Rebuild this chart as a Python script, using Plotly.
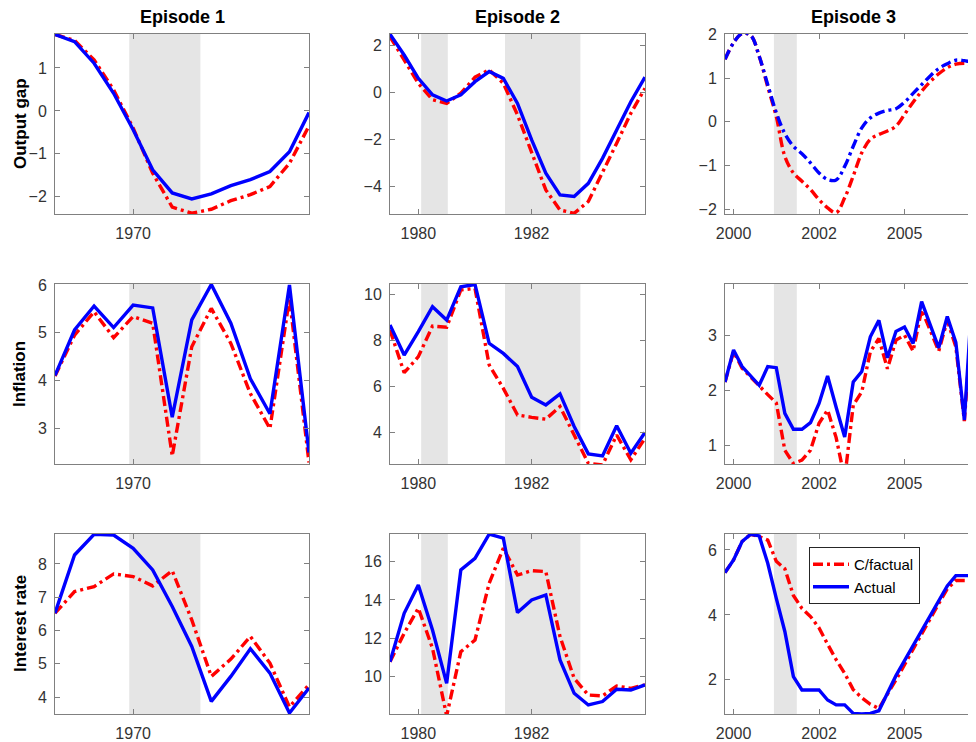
import numpy as np
import plotly.graph_objects as go

# ---------------- data ----------------
# Episode 1: quarterly, 1969Q1 .. 1972Q2
ep1_start, ep1_n = 1969.0, 14
ep1_og_actual = [1.78, 1.61, 1.11, 0.41, -0.44, -1.37, -1.91, -2.05, -1.93, -1.74, -1.60, -1.41, -0.95, -0.04]
ep1_og_cf = [1.78, 1.64, 1.19, 0.49, -0.40, -1.45, -2.24, -2.38, -2.29, -2.09, -1.95, -1.76, -1.22, -0.35]
ep1_inf_actual = [4.11, 5.06, 5.56, 5.11, 5.58, 5.52, 3.24, 5.27, 6.01, 5.20, 4.04, 3.31, 6.00, 2.50]
ep1_inf_cf = [4.10, 4.95, 5.44, 4.90, 5.34, 5.20, 2.43, 4.71, 5.51, 4.78, 3.73, 3.00, 5.72, 2.29]
ep1_ir_actual = [6.52, 8.27, 8.89, 8.87, 8.47, 7.82, 6.72, 5.52, 3.87, 4.62, 5.45, 4.72, 3.52, 4.27]
ep1_ir_cf = [6.52, 7.17, 7.32, 7.70, 7.62, 7.34, 7.80, 6.32, 4.62, 5.14, 5.82, 5.02, 3.70, 4.37]

# Episode 2: quarterly, 1979Q3 .. 1984Q1
ep2_start, ep2_n = 1979.5, 19
ep2_og_actual = [2.46, 1.58, 0.59, -0.11, -0.37, -0.11, 0.45, 0.88, 0.59, -0.47, -2.02, -3.43, -4.35, -4.42, -3.86, -2.80, -1.60, -0.40, 0.64]
ep2_og_cf = [2.36, 1.37, 0.38, -0.32, -0.47, -0.04, 0.64, 0.95, 0.38, -0.96, -2.58, -4.14, -4.99, -5.13, -4.63, -3.43, -2.16, -0.89, 0.17]
ep2_inf_actual = [8.67, 7.36, 8.38, 9.46, 8.88, 10.33, 10.43, 7.87, 7.43, 6.86, 5.52, 5.19, 5.67, 4.25, 3.06, 2.97, 4.28, 3.09, 3.99]
ep2_inf_cf = [8.45, 6.59, 7.29, 8.62, 8.57, 10.19, 10.26, 6.93, 5.91, 4.75, 4.65, 4.57, 5.12, 3.88, 2.65, 2.58, 3.88, 2.80, 3.74]
ep2_ir_actual = [10.78, 13.30, 14.78, 12.43, 9.65, 15.57, 16.17, 17.43, 17.22, 13.34, 14.00, 14.26, 10.87, 9.13, 8.52, 8.70, 9.34, 9.30, 9.57]
ep2_ir_cf = [10.78, 12.26, 13.57, 11.48, 7.95, 11.30, 11.91, 14.87, 16.70, 15.30, 15.53, 15.48, 12.09, 9.91, 9.04, 8.99, 9.51, 9.39, 9.57]

# Episode 3: quarterly, 1999Q4 .. 2007Q2
ep3_start, ep3_n = 1999.75, 31
ep3_og_actual = [1.43, 1.81, 2.02, 1.98, 1.50, 0.85, 0.21, -0.27, -0.56, -0.73, -0.94, -1.17, -1.32, -1.33, -1.02, -0.56,
                 -0.14, 0.09, 0.20, 0.26, 0.30, 0.45, 0.65, 0.85, 1.05, 1.22, 1.33, 1.41, 1.40, 1.38, 1.58]
ep3_og_cf = [1.43, 1.81, 2.02, 1.98, 1.50, 0.80, 0.12, -0.79, -1.17, -1.36, -1.55, -1.78, -1.97, -2.08, -1.74, -1.24,
             -0.71, -0.40, -0.29, -0.21, -0.10, 0.17, 0.45, 0.70, 0.92, 1.10, 1.24, 1.32, 1.34, 1.32, 1.52]
ep3_inf_actual = [2.16, 2.74, 2.44, 2.28, 2.10, 2.44, 2.42, 1.59, 1.30, 1.30, 1.42, 1.77, 2.27, 1.70, 1.16, 2.16,
                  2.35, 2.98, 3.28, 2.60, 3.08, 3.16, 2.86, 3.62, 3.18, 2.78, 3.35, 2.88, 1.47, 3.95, 2.00]
ep3_inf_cf = [2.16, 2.71, 2.41, 2.25, 2.07, 1.93, 1.78, 0.92, 0.68, 0.74, 0.92, 1.41, 1.65, 1.15, 0.40, 1.74,
              1.98, 2.71, 2.95, 2.40, 2.92, 3.01, 2.72, 3.47, 3.10, 2.72, 3.28, 2.80, 1.45, 3.60, 2.00]
ep3_ir_actual = [5.30, 5.69, 6.26, 6.48, 6.43, 5.59, 4.51, 3.49, 2.10, 1.69, 1.69, 1.69, 1.38, 1.23, 1.23, 0.97,
                 0.95, 0.97, 1.05, 1.60, 2.13, 2.59, 3.05, 3.51, 3.97, 4.43, 4.89, 5.21, 5.21, 5.21, 5.21]
ep3_ir_cf = [5.30, 5.69, 6.26, 6.48, 6.41, 6.30, 5.65, 5.42, 4.60, 4.20, 3.95, 3.60, 3.10, 2.62, 2.20, 1.70,
             1.45, 1.25, 1.12, 1.55, 2.00, 2.47, 2.95, 3.42, 3.90, 4.35, 4.80, 5.06, 5.06, 5.06, 5.06]

# recession shading (decimal years)
ep1_shade = [(1969.95, 1970.86)]
ep2_shade = [(1980.05, 1980.52), (1981.53, 1982.86)]
ep3_shade = [(2001.18, 2001.85)]

# tick labels
ep1_xticks, ep1_xlabels = [1970], ["1970"]
ep2_xticks, ep2_xlabels = [1980, 1982], ["1980", "1982"]
ep3_xticks, ep3_xlabels = [2000, 2002.5, 2005], ["2000", "2002", "2005"]

titles = ["Episode 1", "Episode 2", "Episode 3"]
row_labels = ["Output gap", "Inflation", "Interest rate"]
series_names = ["C/factual", "Actual"]

# ---------------- layout geometry ----------------
# page body adds an 8px offset; lay out in window pixels minus that offset
OFF = 8
W, H = 976 - OFF, 742 - OFF
col_px = [(55, 309), (390, 645), (725, 976)]
row_px = [(34, 214), (284, 464), (534, 714)]

def fx(px):
    return (px - OFF) / W

def fy(px):
    return 1 - (px - OFF) / H

def quarters(start, n):
    return [start + 0.25 * i for i in range(n)]

episodes = [
    dict(x=quarters(ep1_start, ep1_n), xr=[1969.0, 1972.25], xt=ep1_xticks, xl=ep1_xlabels, shade=ep1_shade,
         rows=[(ep1_og_cf, ep1_og_actual, [-2.40, 1.79], [-2, -1, 0, 1]),
               (ep1_inf_cf, ep1_inf_actual, [2.26, 6.02], [3, 4, 5, 6]),
               (ep1_ir_cf, ep1_ir_actual, [3.49, 8.90], [4, 5, 6, 7, 8])]),
    dict(x=quarters(ep2_start, ep2_n), xr=[1979.5, 1984.0], xt=ep2_xticks, xl=ep2_xlabels, shade=ep2_shade,
         rows=[(ep2_og_cf, ep2_og_actual, [-5.16, 2.47], [-4, -2, 0, 2]),
               (ep2_inf_cf, ep2_inf_actual, [2.62, 10.45], [4, 6, 8, 10]),
               (ep2_ir_cf, ep2_ir_actual, [8.05, 17.44], [10, 12, 14, 16])]),
    dict(x=quarters(ep3_start, ep3_n), xr=[1999.75, 2007.09], xt=ep3_xticks, xl=ep3_xlabels, shade=ep3_shade,
         rows=[(ep3_og_cf, ep3_og_actual, [-2.11, 2.01], [-2, -1, 0, 1, 2]),
               (ep3_inf_cf, ep3_inf_actual, [0.67, 3.94], [1, 2, 3]),
               (ep3_ir_cf, ep3_ir_actual, [0.95, 6.49], [2, 4, 6])]),
]

FONT = "Liberation Sans, Arial, Helvetica, sans-serif"
AXIS_COLOR = "#808080"
TICK_COLOR = "#333333"
RED, BLUE = "#ff0000", "#0000ff"
DASHDOT = "10px,4px,3px,4px"
LW = 3.4

fig = go.Figure()
layout = dict(width=W, height=H, margin=dict(l=0, r=0, t=0, b=0, pad=0, autoexpand=False),
              template="none",
              paper_bgcolor="white", plot_bgcolor="white",
              font=dict(family=FONT, color=TICK_COLOR),
              shapes=[], annotations=[])

for r in range(3):
    for c in range(3):
        k = r * 3 + c
        suf = "" if k == 0 else str(k + 1)
        ep = episodes[c]
        cf, act, yr, yt = ep["rows"][r]
        smooth = (c == 2 and r == 0)
        shape = "spline" if smooth else "linear"
        fig.add_trace(go.Scatter(x=ep["x"], y=cf, mode="lines", name=series_names[0],
                                 line=dict(color=RED, width=LW, dash=DASHDOT, shape=shape),
                                 xaxis="x" + suf, yaxis="y" + suf, showlegend=(k == 8)))
        fig.add_trace(go.Scatter(x=ep["x"], y=act, mode="lines", name=series_names[1],
                                 line=dict(color=BLUE, width=LW, dash=DASHDOT if smooth else "solid", shape=shape),
                                 xaxis="x" + suf, yaxis="y" + suf, showlegend=(k == 8)))
        x0, x1 = col_px[c]
        y0, y1 = row_px[r]
        layout["xaxis" + suf] = dict(domain=[fx(x0), min(1.0, fx(x1))], range=ep["xr"], anchor="y" + suf,
                                     tickvals=ep["xt"], ticktext=ep["xl"], ticks="inside", ticklen=5,
                                     tickcolor=AXIS_COLOR, mirror="ticks", showline=True, linecolor=AXIS_COLOR,
                                     linewidth=1, showgrid=False, zeroline=False, automargin=False,
                                     tickfont=dict(size=16, color=TICK_COLOR, family=FONT),
                                     ticklabelstandoff=5)
        layout["yaxis" + suf] = dict(domain=[fy(y1), fy(y0)], range=yr, anchor="x" + suf,
                                     tickvals=yt, ticks="inside", ticklen=5, tickcolor=AXIS_COLOR,
                                     mirror=("ticks" if c < 2 else False), showline=True,
                                     linecolor=AXIS_COLOR, linewidth=1, showgrid=False, zeroline=False,
                                     automargin=False,
                                     tickfont=dict(size=16, color=TICK_COLOR, family=FONT),
                                     ticklabelstandoff=4)
        for (s0, s1) in ep["shade"]:
            layout["shapes"].append(dict(type="rect", xref="x" + suf, yref="y" + suf + " domain",
                                         x0=s0, x1=s1, y0=0, y1=1, fillcolor="#e5e5e5",
                                         line=dict(width=0), layer="below"))

# column titles
title_centers = [182, 517.5, 853]
for c in range(3):
    layout["annotations"].append(dict(text="<b>%s</b>" % titles[c], x=fx(title_centers[c]), y=fy(17),
                                      xref="paper", yref="paper", showarrow=False, xanchor="center",
                                      yanchor="middle", font=dict(size=18, color="#000000", family=FONT)))
# row labels
for r in range(3):
    yc = (row_px[r][0] + row_px[r][1]) / 2
    layout["annotations"].append(dict(text="<b>%s</b>" % row_labels[r], x=fx(20), y=fy(yc),
                                      xref="paper", yref="paper", showarrow=False, textangle=-90,
                                      xanchor="center", yanchor="middle",
                                      font=dict(size=17, color="#000000", family=FONT)))

layout["legend"] = dict(x=fx(809), y=fy(547), xanchor="left", yanchor="top",
                        bgcolor="white", bordercolor="#262626", borderwidth=1,
                        font=dict(size=15, color="#000000", family=FONT),
                        itemwidth=36, tracegroupgap=0, indentation=-2)
fig.update_layout(**layout)
fig.write_html("out.html")
